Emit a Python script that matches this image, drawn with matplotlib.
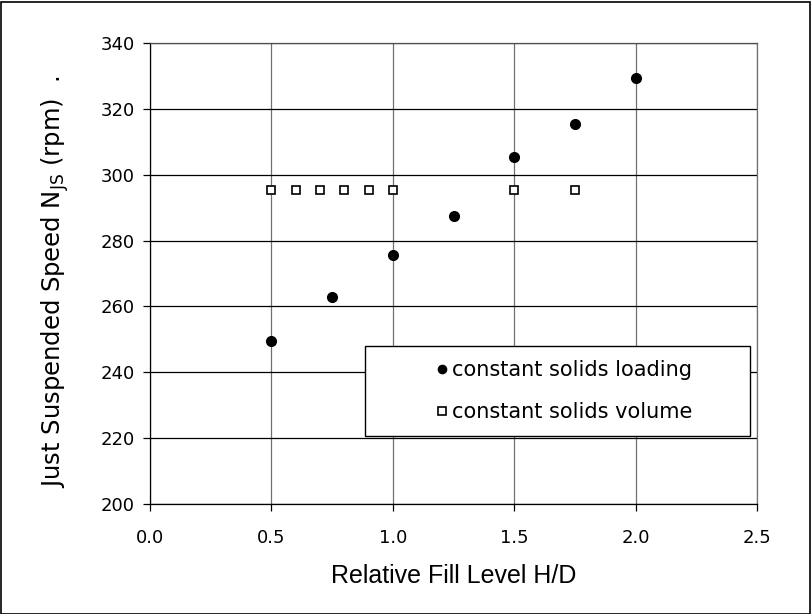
import matplotlib
matplotlib.use("Agg")
import matplotlib.pyplot as plt
from matplotlib.patches import Rectangle

# Data
x_loading = [0.5, 0.75, 1.0, 1.25, 1.5, 1.75, 2.0]
y_loading = [249.5, 263.0, 275.5, 287.5, 305.5, 315.5, 329.5]
x_volume = [0.5, 0.6, 0.7, 0.8, 0.9, 1.0, 1.5, 1.75]
y_volume = [295.5, 295.5, 295.5, 295.5, 295.5, 295.5, 295.5, 295.5]
x_ticks = [0.0, 0.5, 1.0, 1.5, 2.0, 2.5]
y_ticks = [200, 220, 240, 260, 280, 300, 320, 340]
series_names = ["constant solids loading", "constant solids volume"]

plt.rcParams['font.family'] = ['DejaVu Sans']

fig = plt.figure(figsize=(8.11, 6.14), dpi=100)
ax = fig.add_axes([150/811, 1-504/614, (757-150)/811, (504-43)/614])

ax.set_xlim(0, 2.5)
ax.set_ylim(200, 340)
ax.set_xticks(x_ticks)
ax.set_yticks(y_ticks)
ax.set_xticklabels([f"{v:.1f}" for v in x_ticks])
ax.yaxis.grid(True, color='black', linewidth=0.9)
ax.xaxis.grid(True, color='#707070', linewidth=0.9)
ax.set_axisbelow(True)
for s in ax.spines.values():
    s.set_color('black')
    s.set_linewidth(0.9)
ax.spines['right'].set_color('#707070')
ax.spines['top'].set_color('#505050')
ax.tick_params(direction='out', length=5, width=0.9, labelsize=13)
ax.tick_params(axis='y', pad=6)
ax.tick_params(axis='x', pad=13)

h1, = ax.plot(x_loading, y_loading, 'o', color='black', markersize=7, label=series_names[0], zorder=3)
h2, = ax.plot(x_volume, y_volume, 's', markerfacecolor='white', markeredgecolor='black',
              markeredgewidth=1.2, markersize=6, label=series_names[1], zorder=3)

ax.set_xlabel("Relative Fill Level H/D", fontsize=18, labelpad=12, family='Liberation Sans')
ax.set_ylabel(r"Just Suspended Speed N$_{\mathregular{JS}}$ (rpm)  .", fontsize=17.5)
ax.yaxis.set_label_coords((71-150)/607, (504-282)/461)

# legend box
rect = Rectangle(((365-150)/607, (504-436)/461), (750-365)/607, (436-346)/461,
                 transform=ax.transAxes, facecolor='white', edgecolor='black', linewidth=1.0, zorder=4)
ax.add_patch(rect)
leg = ax.legend(handles=[h1, h2], loc='center', bbox_to_anchor=((564-150)/607, (504-391)/461),
                frameon=False, fontsize=15, handlelength=0.6, handletextpad=0.2,
                labelspacing=1.05, markerscale=0.85)
leg.set_zorder(5)

# figure border
fig.patches.append(Rectangle((0.5/811, 0.5/614), 809.5/811, 612/614, transform=fig.transFigure,
                             fill=False, edgecolor='black', linewidth=1.2))

fig.savefig("out.png", dpi=100)
